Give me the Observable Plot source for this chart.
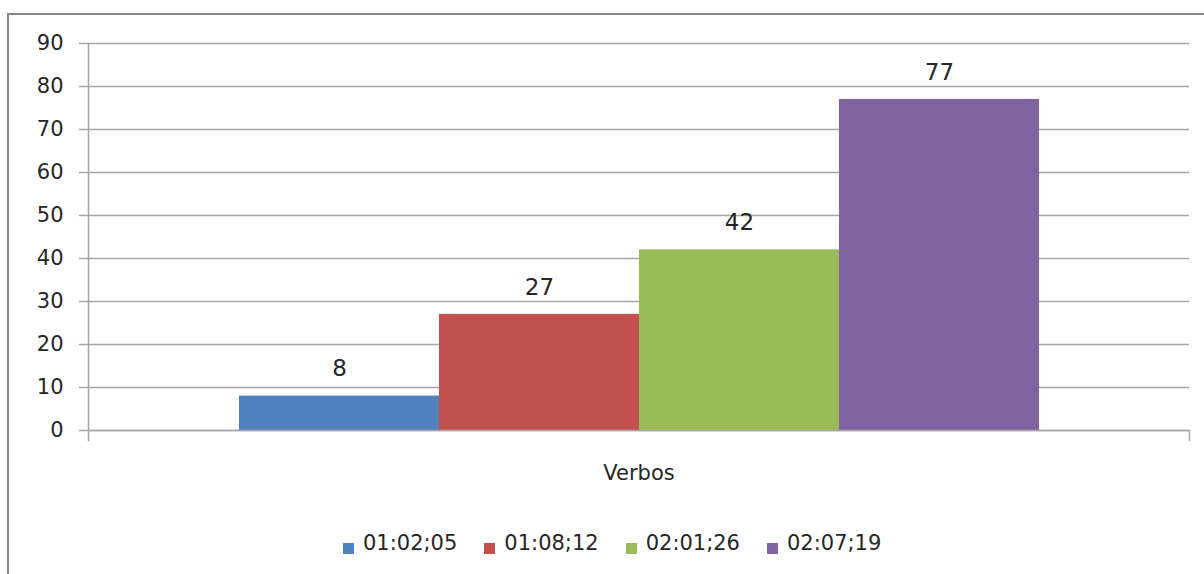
<!DOCTYPE html>
<html>
<head>
<meta charset="utf-8">
<script src="https://cdn.jsdelivr.net/npm/d3@7"></script>
<script src="https://cdn.jsdelivr.net/npm/@observablehq/plot@0.6"></script>
<style>
  body { margin: 0; background: #fff; }
  #wrap { position: relative; width: 1204px; height: 574px; overflow: hidden; font-family: "DejaVu Sans", sans-serif; color: #262626; }
  #border { position: absolute; left: 7px; top: 13px; width: 1400px; height: 800px; border-left: 2px solid #868686; border-top: 2px solid #868686; }
  #chart { position: absolute; left: 0; top: 0; }
  #legend { position: absolute; left: 343px; top: 531px; display: flex; align-items: center; font-size: 21px; white-space: nowrap; }
  .item { display: flex; align-items: center; margin-right: 27px; }
  .sw { width: 11px; height: 11px; margin-right: 9px; position: relative; top: 5px; }
</style>
</head>
<body>
<div id="wrap">
  <div id="border"></div>
  <div id="chart"></div>
  <div id="legend"></div>
</div>
<script>
const categories = ["Verbos"];
const series = ["01:02;05", "01:08;12", "02:01;26", "02:07;19"];
const values = [8, 27, 42, 77];
const colors = ["#4F81BD", "#C0504D", "#9BBB59", "#8064A2"];
const yTicks = [0, 10, 20, 30, 40, 50, 60, 70, 80, 90];

const data = series.map((s, i) => ({ category: categories[0], series: s, value: values[i] }));

const W = 1204, H = 500, mT = 43, mB = 70, mL = 88, mR = 15;
const gridColor = "#a6a6a6";

const chart = Plot.plot({
  width: W,
  height: H,
  marginTop: mT,
  marginBottom: mB,
  marginLeft: mL,
  marginRight: mR,
  style: { fontFamily: "DejaVu Sans", fontSize: "21px", color: "#262626", background: "transparent", overflow: "visible" },
  fx: { domain: categories, padding: 0, label: null },
  x: { domain: series, paddingInner: 0, paddingOuter: 0.7525, axis: null },
  y: { domain: [0, 90], axis: null },
  color: { domain: series, range: colors },
  marks: [
    Plot.gridY(yTicks, { stroke: gridColor, strokeOpacity: 1, strokeWidth: 1.5 }),
    Plot.barY(data, { fx: "category", x: "series", y: "value", fill: "series" }),
    Plot.text(data, { fx: "category", x: "series", y: "value", text: d => String(d.value), dy: -27, fontSize: 23, fill: "#262626" }),
    Plot.axisY({ ticks: yTicks, tickSize: 9, tickPadding: 16, stroke: gridColor, strokeWidth: 1.5, strokeOpacity: 1, label: null, fill: "#262626" }),
    Plot.axisFx({ anchor: "bottom", tickSize: 0, tickPadding: 35, label: null, fill: "#262626" }),
    Plot.ruleY([0], { stroke: gridColor, strokeWidth: 1.5 }),
    Plot.frame({ anchor: "left", stroke: gridColor, strokeWidth: 1.5, insetBottom: -10 }),
    Plot.frame({ anchor: "right", stroke: gridColor, strokeWidth: 1.5, insetTop: H - mT - mB, insetBottom: -10 })
  ]
});
document.getElementById("chart").appendChild(chart);

const legend = document.getElementById("legend");
series.forEach((s, i) => {
  const item = document.createElement("div");
  item.className = "item";
  const sw = document.createElement("span");
  sw.className = "sw";
  sw.style.background = colors[i];
  const t = document.createElement("span");
  t.textContent = s;
  item.appendChild(sw);
  item.appendChild(t);
  legend.appendChild(item);
});
</script>
</body>
</html>
